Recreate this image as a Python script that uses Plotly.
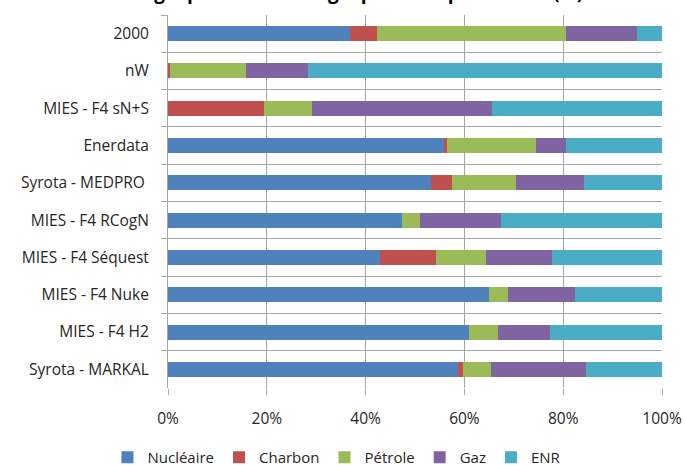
import plotly.graph_objects as go

categories = ["2000", "nW", "MIES - F4 sN+S", "Enerdata", "Syrota - MEDPRO ",
              "MIES - F4 RCogN", "MIES - F4 Séquest", "MIES - F4 Nuke",
              "MIES - F4 H2", "Syrota - MARKAL"]

nucleaire = [36.8, 0.0, 0.0, 55.9, 53.2, 47.3, 42.9, 65.0, 60.9, 58.7]
charbon   = [5.6, 0.4, 19.4, 0.5, 4.3, 0.0, 11.4, 0.0, 0.0, 1.1]
petrole   = [38.1, 15.4, 9.7, 18.0, 12.9, 3.8, 10.1, 3.8, 6.0, 5.6]
gaz       = [14.4, 12.6, 36.5, 6.2, 13.8, 16.3, 13.3, 13.5, 10.4, 19.2]
enr       = [5.1, 71.6, 34.4, 19.4, 15.8, 32.6, 22.3, 17.7, 22.7, 15.4]

series_names = ["Nucléaire", "Charbon", "Pétrole", "Gaz", "ENR"]
series_values = [nucleaire, charbon, petrole, gaz, enr]
colors = ["#4F81BD", "#C0504D", "#9BBB59", "#8064A2", "#4BACC6"]

x_ticks = [0, 20, 40, 60, 80, 100]
x_tick_labels = ["0%", "20%", "40%", "60%", "80%", "100%"]

title_text = "Mix énergie primaire : énergie primaire par source (%)"

font_family = "'Open Sans', Lato, sans-serif"

fig = go.Figure()
for name, vals, col in zip(series_names, series_values, colors):
    fig.add_trace(go.Bar(
        y=categories, x=vals, name=name, orientation="h",
        marker=dict(color=col, line=dict(width=0)),
    ))

fig.update_layout(
    barmode="stack",
    bargap=0.6,
    width=685, height=465,
    margin=dict(l=168, r=23, t=15, b=77, autoexpand=False),
    paper_bgcolor="white", plot_bgcolor="white",
    font=dict(family=font_family, size=15.5, color="#262626"),
    legend=dict(orientation="h", x=0.342, xanchor="center", xref="paper",
                y=-0.142, yref="paper", yanchor="top",
                font=dict(size=15), itemwidth=30, traceorder="normal"),
    showlegend=True,
)

# title partly cut off at the top edge, as in the reference
fig.add_annotation(
    text="<b>" + title_text + "</b>", xref="paper", yref="paper",
    x=0.322, y=1.0214, xanchor="center", yanchor="bottom", showarrow=False,
    font=dict(size=19, color="#000000", family=font_family),
)

fig.update_xaxes(
    range=[0, 100], tickvals=x_ticks, ticktext=x_tick_labels,
    showgrid=True, gridcolor="#A6A6A6", gridwidth=1,
    ticks="outside", ticklen=6, tickcolor="#A6A6A6",
    showline=False, zeroline=False, ticklabelstandoff=10, automargin=False,
)
fig.update_yaxes(
    categoryorder="array", categoryarray=categories, autorange="reversed",
    tickson="boundaries", showgrid=True, gridcolor="#A6A6A6", gridwidth=1,
    ticks="outside", ticklen=6, tickcolor="#A6A6A6",
    showline=True, linecolor="#A6A6A6", ticklabelstandoff=15, automargin=False,
)

fig.write_html("out.html", config={"displayModeBar": False},
               post_script="document.body.style.margin='0';")
